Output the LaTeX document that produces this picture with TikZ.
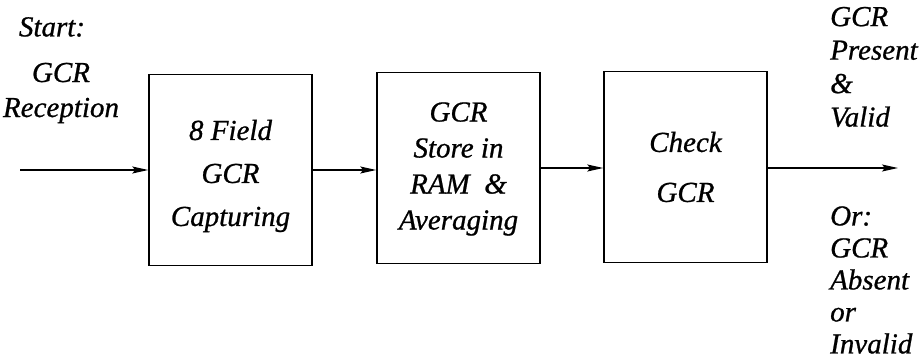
\documentclass[tikz,border=0pt]{standalone}
\usepackage{fontspec}
\newfontfamily\diafont{Liberation Serif}[FakeBold=0.8]
\usetikzlibrary{arrows.meta}
\tikzset{
  blk/.style={draw, line width=1.5pt, minimum width=163pt, minimum height=191pt, inner sep=0pt, align=center},
  lbl/.style={inner sep=0pt, align=left},
  conn/.style={line width=1.4pt, -{Stealth[length=16pt,width=7pt,inset=3pt]}},
}
\begin{document}
\begin{tikzpicture}[x=1pt,y=-1pt]
\useasboundingbox (0,0) rectangle (922,363);
\node[blk, font=\diafont\itshape\fontsize{29}{43}\selectfont] (b1) at (230.5,170) {};
\node[font=\diafont\itshape\fontsize{29}{43}\selectfont, align=center, inner sep=0pt] (t1) at (b1.center) [yshift=-6pt] {8 Field\\GCR\\Capturing};
\node[blk, font=\diafont\itshape\fontsize{29}{36}\selectfont] (b2) at (458.5,168) {};
\node[font=\diafont\itshape\fontsize{29}{36}\selectfont, align=center, inner sep=0pt] (t2) at (b2.center) [yshift=-1pt] {GCR\\Store in\\RAM \ \&\\Averaging};
\node[blk, font=\diafont\itshape\fontsize{29}{50}\selectfont] (b3) at (685.5,167) {Check\\GCR};
\node[lbl, font=\diafont\itshape\fontsize{29}{34}\selectfont] (start) at (52,27) {Start:};
\node[lbl, align=center, font=\diafont\itshape\fontsize{29}{35}\selectfont] (rec) at (61,93) {GCR\\Reception};
\node[lbl, anchor=west, font=\diafont\itshape\fontsize{29}{33.5}\selectfont] (ok) at (830,67) {GCR\\Present\\\&\\Valid};
\node[lbl, anchor=west, font=\diafont\itshape\fontsize{29}{32}\selectfont] (bad) at (830,280) {Or:\\GCR\\Absent\\or\\Invalid};
\coordinate (in) at (20,170);
\coordinate (out) at (898,168);
\draw[conn] (in) -- (b1.west |- in);
\draw[conn] (b1.east |- 0,170) -- (b2.west |- 0,170);
\draw[conn] (b2.east |- 0,168) -- (b3.west |- 0,168);
\draw[conn] (b3.east |- out) -- (out);
\end{tikzpicture}
\end{document}
